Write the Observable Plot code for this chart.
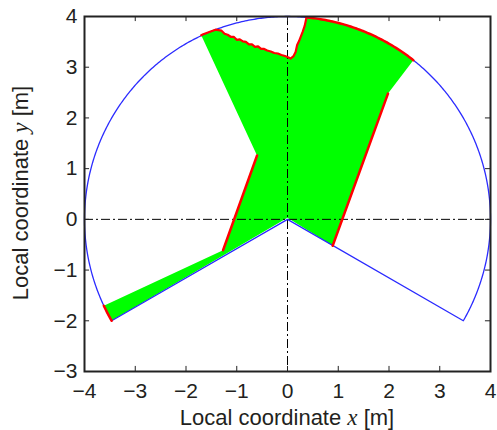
<!DOCTYPE html>
<html><head><meta charset="utf-8">
<script src="https://cdn.jsdelivr.net/npm/d3@7"></script>
<script src="https://cdn.jsdelivr.net/npm/@observablehq/plot@0.6"></script>
<style>body{margin:0;background:#fff}</style>
</head><body><div id="chart"></div>
<script>
// ---- data ----
const xTicks = [-4, -3, -2, -1, 0, 1, 2, 3, 4];
const yTicks = [-3, -2, -1, 0, 1, 2, 3, 4];
const sensorRadius = 4;
const fovStartDeg = -30;
const fovEndDeg = 210;
const origin = [0, 0.03];
// visible-region corner points
const rightWall = [[0.89, -0.52], [1.98, 2.48]];
const rightArcDeg = [51.7, 84.7];
const topEdge = [[0.37,3.96],[0.34,3.82],[0.30,3.70],[0.26,3.60],[0.23,3.52],[0.19,3.44],[0.16,3.30],[0.12,3.22],[0.06,3.17],[0.02,3.19],[-0.05,3.22],[-0.12,3.24],[-0.19,3.27],[-0.26,3.28],[-0.33,3.31],[-0.40,3.33],[-0.46,3.36],[-0.52,3.36],[-0.58,3.41],[-0.64,3.40],[-0.70,3.45],[-0.76,3.45],[-0.82,3.50],[-0.88,3.51],[-0.94,3.55],[-1.00,3.54],[-1.06,3.60],[-1.12,3.60],[-1.18,3.64],[-1.24,3.66],[-1.30,3.72],[-1.36,3.73],[-1.42,3.74],[-1.50,3.71],[-1.58,3.68],[-1.66,3.65],[-1.70,3.63]];
const leftWall = [[-0.60, 1.26], [-1.27, -0.61]];
const leftArcDeg = [205.2, 210];

// ---- helpers ----
const arc = (a0, a1) => {
  const n = Math.max(2, Math.ceil(Math.abs(a1 - a0) / 0.5));
  return d3.range(n + 1).map(i => {
    const a = (a0 + (a1 - a0) * i / n) * Math.PI / 180;
    return [sensorRadius * Math.cos(a), sensorRadius * Math.sin(a)];
  });
};
const fovOutline = [[0, 0], ...arc(fovEndDeg, fovStartDeg), [0, 0]];
const greenPoly = [
  origin,
  ...rightWall,
  ...arc(rightArcDeg[0], rightArcDeg[1]),
  ...topEdge,
  ...leftWall,
  ...arc(leftArcDeg[0], leftArcDeg[1])
];
const fmt = d => d < 0 ? "\u2212" + (-d) : String(d);
const tickLen = 0.1;
const red = "#ff0000", blue = "#2b2bff", green = "#00ff00";
const font = "'Liberation Sans', Arial, sans-serif";

const plot = Plot.plot({
  width: 497, height: 430,
  marginLeft: 84, marginRight: 7, marginTop: 16, marginBottom: 59,
  x: {domain: [-4, 4]},
  y: {domain: [-3, 4]},
  style: {fontFamily: font, fontSize: "21px", color: "#231f20", background: "#fff"},
  marks: [
    Plot.line(greenPoly, {x: d => d[0], y: d => d[1], fill: green, stroke: "none", curve: "linear-closed"}),
    Plot.ruleY([0], {stroke: "#000", strokeWidth: 1, strokeDasharray: "9,3,2,3"}),
    Plot.ruleX([0], {stroke: "#000", strokeWidth: 1, strokeDasharray: "9,3,2,3"}),
    Plot.line(fovOutline, {x: d => d[0], y: d => d[1], stroke: blue, strokeWidth: 1.3}),
    Plot.line(arc(leftArcDeg[0], leftArcDeg[1]), {x: d => d[0], y: d => d[1], stroke: red, strokeWidth: 2.5}),
    Plot.line(leftWall, {x: d => d[0], y: d => d[1], stroke: red, strokeWidth: 2.5}),
    Plot.line(rightWall, {x: d => d[0], y: d => d[1], stroke: red, strokeWidth: 2.5}),
    Plot.line(arc(rightArcDeg[0], rightArcDeg[1]), {x: d => d[0], y: d => d[1], stroke: red, strokeWidth: 2.5}),
    Plot.line(topEdge, {x: d => d[0], y: d => d[1], stroke: red, strokeWidth: 2.2}),
    // inward ticks on all sides
    Plot.ruleX(xTicks, {x: d => d, y1: -3, y2: -3 + tickLen, stroke: "#222", strokeWidth: 1}),
    Plot.ruleX(xTicks, {x: d => d, y1: 4, y2: 4 - tickLen, stroke: "#222", strokeWidth: 1}),
    Plot.ruleY(yTicks, {y: d => d, x1: -4, x2: -4 + tickLen, stroke: "#222", strokeWidth: 1}),
    Plot.ruleY(yTicks, {y: d => d, x1: 4, x2: 4 - tickLen, stroke: "#222", strokeWidth: 1}),
    Plot.frame({stroke: "#222", strokeWidth: 2}),
    Plot.axisX({ticks: xTicks, tickSize: 0, tickPadding: 12, tickFormat: fmt, label: null, fontSize: 21, fill: "#231f20"}),
    Plot.axisY({ticks: yTicks, tickSize: 0, tickPadding: 7, tickFormat: fmt, label: null, fontSize: 21, fill: "#231f20"})
  ]
});

const svg = d3.select(plot);
const xl = svg.append("text")
  .attr("x", 287).attr("y", 425)
  .attr("text-anchor", "middle")
  .attr("fill", "#231f20")
  .style("font-family", font)
  .style("font-size", "22px");
xl.append("tspan").text("Local coordinate ");
xl.append("tspan").text("x").style("font-family", "'Liberation Serif', 'Times New Roman', serif").style("font-style", "italic").style("font-size", "23px");
xl.append("tspan").text(" [m]");

const yl = svg.append("text")
  .attr("transform", "translate(28,193) rotate(-90)")
  .attr("text-anchor", "middle")
  .attr("fill", "#231f20")
  .style("font-family", font)
  .style("font-size", "22px");
yl.append("tspan").text("Local coordinate ");
yl.append("tspan").text("y").style("font-family", "'Liberation Serif', 'Times New Roman', serif").style("font-style", "italic").style("font-size", "23px");
yl.append("tspan").text(" [m]");

document.getElementById("chart").appendChild(plot);
</script>
</body></html>
